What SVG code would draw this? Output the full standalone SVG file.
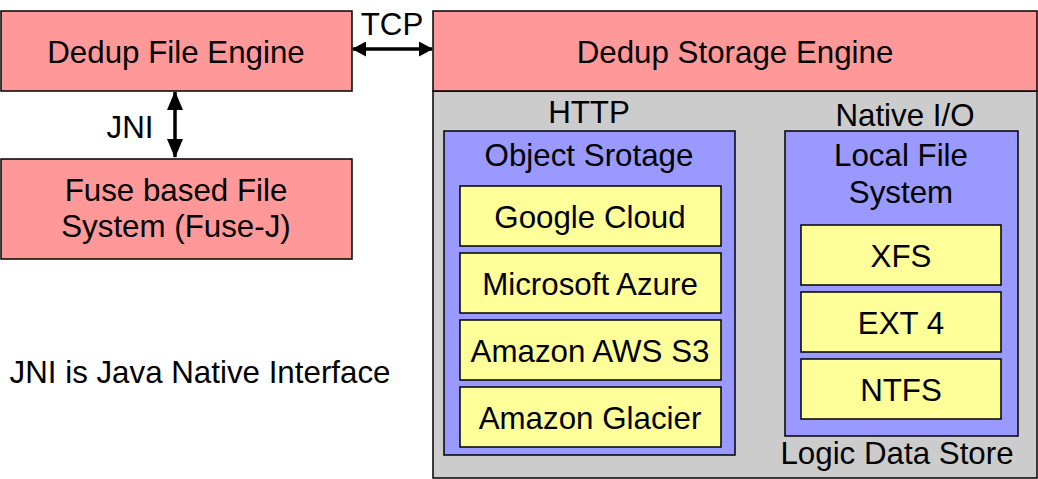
<svg xmlns="http://www.w3.org/2000/svg" width="1038" height="479" viewBox="0 0 1038 479">
<style>
text{font-family:"Liberation Sans",Arial,sans-serif;font-size:31.3px;fill:#000;text-anchor:middle}
.pink{fill:#FF9999;stroke:#000;stroke-width:1.5}
.gray{fill:#CCCCCC;stroke:#000;stroke-width:1.5}
.blue{fill:#9999FF;stroke:#000;stroke-width:1.5}
.yellow{fill:#FFFF99;stroke:#000;stroke-width:1.5}
.conn{stroke:#000;stroke-width:3.5;fill:none}
</style>
<defs>
<marker id="ah" viewBox="0 0 14 15" refX="13" refY="7.5" markerWidth="14" markerHeight="15" markerUnits="userSpaceOnUse" orient="auto-start-reverse">
<path d="M0,0 L14,7.5 L0,15 Z" fill="#000"/>
</marker>
<marker id="ahv" viewBox="0 0 19 16" refX="18" refY="8" markerWidth="19" markerHeight="16" markerUnits="userSpaceOnUse" orient="auto-start-reverse">
<path d="M0,0 L19,8 L0,16 Z" fill="#000"/>
</marker>
</defs>
<rect width="1038" height="479" fill="#fff"/>
<g id="dedup-file-engine">
<rect class="pink" x="1" y="11" width="351" height="80"/>
<text x="176" y="63">Dedup File Engine</text>
</g>
<g id="fuse-fs">
<rect class="pink" x="1" y="159" width="351" height="100"/>
<text x="176" y="201">Fuse based File</text>
<text x="176" y="237">System (Fuse-J)</text>
</g>
<g id="logic-data-store">
<rect class="gray" x="433" y="91" width="604" height="387"/>
<text x="897" y="464">Logic Data Store</text>
</g>
<g id="dedup-storage-engine">
<rect class="pink" x="433" y="11" width="604" height="80"/>
<text x="735" y="63">Dedup Storage Engine</text>
</g>
<g id="object-storage">
<text x="589" y="123">HTTP</text>
<rect class="blue" x="444" y="131" width="291" height="324"/>
<text x="589" y="166">Object Srotage</text>
</g>
<g id="google-cloud">
<rect class="yellow" x="460" y="186" width="261" height="60"/>
<text x="590" y="228">Google Cloud</text>
</g>
<g id="microsoft-azure">
<rect class="yellow" x="460" y="253" width="261" height="60"/>
<text x="590" y="295">Microsoft Azure</text>
</g>
<g id="amazon-s3">
<rect class="yellow" x="460" y="320" width="261" height="60"/>
<text x="590" y="362">Amazon AWS S3</text>
</g>
<g id="amazon-glacier">
<rect class="yellow" x="460" y="387" width="261" height="60"/>
<text x="590" y="429">Amazon Glacier</text>
</g>
<g id="local-fs">
<text x="905" y="126">Native I/O</text>
<rect class="blue" x="785" y="131" width="233" height="305"/>
<text x="901" y="166">Local File</text>
<text x="901" y="203">System</text>
</g>
<g id="xfs">
<rect class="yellow" x="801" y="225" width="200" height="60"/>
<text x="901" y="267">XFS</text>
</g>
<g id="ext4">
<rect class="yellow" x="801" y="292" width="200" height="60"/>
<text x="901" y="334">EXT 4</text>
</g>
<g id="ntfs">
<rect class="yellow" x="801" y="359" width="200" height="60"/>
<text x="901" y="401">NTFS</text>
</g>
<g id="connectors">
<path class="conn" d="M353,49 L432,49" marker-start="url(#ah)" marker-end="url(#ah)"/>
<text x="392" y="35">TCP</text>
<path class="conn" d="M175,92 L175,157" stroke-width="4" marker-start="url(#ahv)" marker-end="url(#ahv)"/>
<text x="130" y="138">JNI</text>
</g>
<text x="200" y="383">JNI is Java Native Interface</text>
</svg>
